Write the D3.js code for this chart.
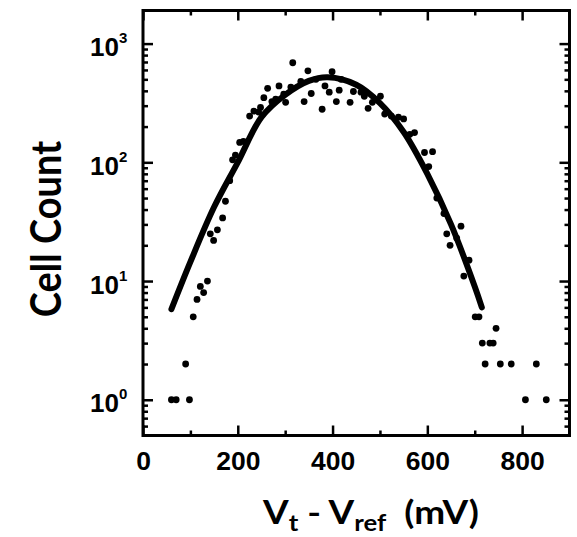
<!DOCTYPE html>
<html>
<head>
<meta charset="utf-8">
<script src="https://cdn.jsdelivr.net/npm/d3@7/dist/d3.min.js"></script>
<style>
body{margin:0;background:#fff;}
</style>
</head>
<body>
<svg id="chart"></svg>
<script>
/*********data**********************************/
//measured cells : Vt - Vref (mV) and count
var dotV = [60,70,98,90,106,114,121,128,136,142,149,157,168,174,183,189,195,204,212,225,234,244,
	248,255,263,272,280,287,297,301,312,316,333,340,348,355,365,378,384,393,399,408,414,418,437,444,
	460,467,475,484,501,510,524,539,550,563,573,594,603,611,620,635,641,648,662,671,677,688,
	701,709,716,722,732,739,745,754,777,807,830,851];
var dotCount = [1,1,1,2,5,7,9,8,10,25,22,27,34,47,70,105,115,147,150,245,270,265,
	290,350,420,325,340,440,375,320,430,690,480,325,590,380,500,280,440,390,580,325,405,500,320,395,
	390,360,285,320,360,255,245,240,232,172,178,121,92,123,50,37,25,20,23,29,11,15,
	5,5,3,2,3,3,4,2,2,1,2,1];
//the fitted line
var fitV = [60,100,150,200,250,300,350,390,450,500,550,600,650,700,715];
var fitCount = [5.8,14.5,42,100,240,370,485,520,450,315,180,80,30,9,6];
//ticks
var xMajor = [0,200,400,600,800];
var xMinor = [100,300,500,700];
var yMajor = [1,10,100,1000];
var yMinor = [0.6,0.7,0.8,0.9,2,3,4,5,6,7,8,9,20,30,40,50,60,70,80,90,200,300,400,500,600,700,800,900];
/*********************/

var width = 577;
var height = 537;
var frame = {left:143,right:569.5,top:10.5,bottom:435.5};
var svg = d3.select('#chart')
	.attr('width',width)
	.attr('height',height);

var xScale = d3.scaleLinear()
		.domain([0,900])
		.range([frame.left,frame.right]);
var yScale = d3.scaleLog()
		.domain([0.5,1900])
		.range([frame.bottom,frame.top]);

var axisG = svg.append('g');
var tickFont = '"Liberation Sans", Arial, sans-serif';

//bottom : long ticks with labels, then short ones
var bottomG = axisG.append('g')
	.attr('transform','translate(0,'+frame.bottom+')')
	.call(d3.axisBottom(xScale).tickValues(xMajor).tickSize(-10).tickFormat(d3.format('d')));
bottomG.selectAll('text')
	.attr('y',35).attr('dy',null)
	.attr('transform','scale(1.06,1)')
	.style('font-family',tickFont).style('font-weight','bold').style('font-size','25px');
axisG.append('g')
	.attr('transform','translate(0,'+frame.bottom+')')
	.call(d3.axisBottom(xScale).tickValues(xMinor).tickSize(-5).tickFormat(''));
//top, mirrored
axisG.append('g')
	.attr('transform','translate(0,'+frame.top+')')
	.call(d3.axisTop(xScale).tickValues(xMajor).tickSize(-10).tickFormat(''));
axisG.append('g')
	.attr('transform','translate(0,'+frame.top+')')
	.call(d3.axisTop(xScale).tickValues(xMinor).tickSize(-5).tickFormat(''));

//left : 10^n labels
var leftG = axisG.append('g')
	.attr('transform','translate('+frame.left+',0)')
	.call(d3.axisLeft(yScale).tickValues(yMajor).tickSize(-10).tickFormat(''));
leftG.selectAll('.tick text').each(function(d){
	var t = d3.select(this)
		.attr('x',-53).attr('y',12).attr('dy',null)
		.attr('text-anchor','start')
		.style('font-family',tickFont).style('font-weight','bold').style('font-size','26px');
	t.append('tspan').text('10');
	t.append('tspan').attr('dy',-13).style('font-size','15px').text(Math.round(Math.log10(d)));
});
axisG.append('g')
	.attr('transform','translate('+frame.left+',0)')
	.call(d3.axisLeft(yScale).tickValues(yMinor).tickSize(-5).tickFormat(''));
//right, mirrored
axisG.append('g')
	.attr('transform','translate('+frame.right+',0)')
	.call(d3.axisRight(yScale).tickValues(yMajor).tickSize(-10).tickFormat(''));
axisG.append('g')
	.attr('transform','translate('+frame.right+',0)')
	.call(d3.axisRight(yScale).tickValues(yMinor).tickSize(-5).tickFormat(''));

axisG.selectAll('.domain').remove();
axisG.selectAll('.tick line').attr('stroke','#000').attr('stroke-width',2.5);

//frame
svg.append('rect')
	.attr('x',frame.left).attr('y',frame.top)
	.attr('width',frame.right-frame.left)
	.attr('height',frame.bottom-frame.top)
	.attr('fill','none')
	.attr('stroke','#000')
	.attr('stroke-width',3);

//fit line
var fitData = fitV.map(function(v,i){ return [v,fitCount[i]]; });
var line = d3.line()
	.x(function(d){ return xScale(d[0]); })
	.y(function(d){ return yScale(d[1]); })
	.curve(d3.curveCatmullRom);
svg.append('path')
	.datum(fitData)
	.attr('d',line)
	.attr('fill','none')
	.attr('stroke','#000')
	.attr('stroke-width',6)
	.attr('stroke-linecap','round');

//dots
var dotData = dotV.map(function(v,i){ return [v,dotCount[i]]; });
svg.append('g').selectAll('circle')
	.data(dotData)
	.enter().append('circle')
	.attr('cx',function(d){ return xScale(d[0]); })
	.attr('cy',function(d){ return yScale(d[1]); })
	.attr('r',3.4)
	.attr('fill','#000');

//axis titles (the picture is a bit wider than tall, so stretch them)
var titleFont = 'Lato, "Open Sans", sans-serif';
svg.append('text')
	.attr('transform','translate(61,229) scale(1.12,1) rotate(-90)')
	.attr('text-anchor','middle')
	.style('font-family',titleFont).style('font-weight','bold').style('font-size','38px')
	.text('Cell Count');
var xt = svg.append('text')
	.attr('transform','translate(263,524) scale(1.12,1)')
	.style('font-family',titleFont).style('font-weight','bold').style('font-size','33px')
	.attr('xml:space','preserve');
xt.append('tspan').text('V');
xt.append('tspan').attr('dy',7).style('font-size','23px').text('t');
xt.append('tspan').attr('dy',-7).text(' - V');
xt.append('tspan').attr('dy',7).style('font-size','23px').text('ref');
xt.append('tspan').attr('dy',-7).text('  (mV)');
</script>
</body>
</html>
